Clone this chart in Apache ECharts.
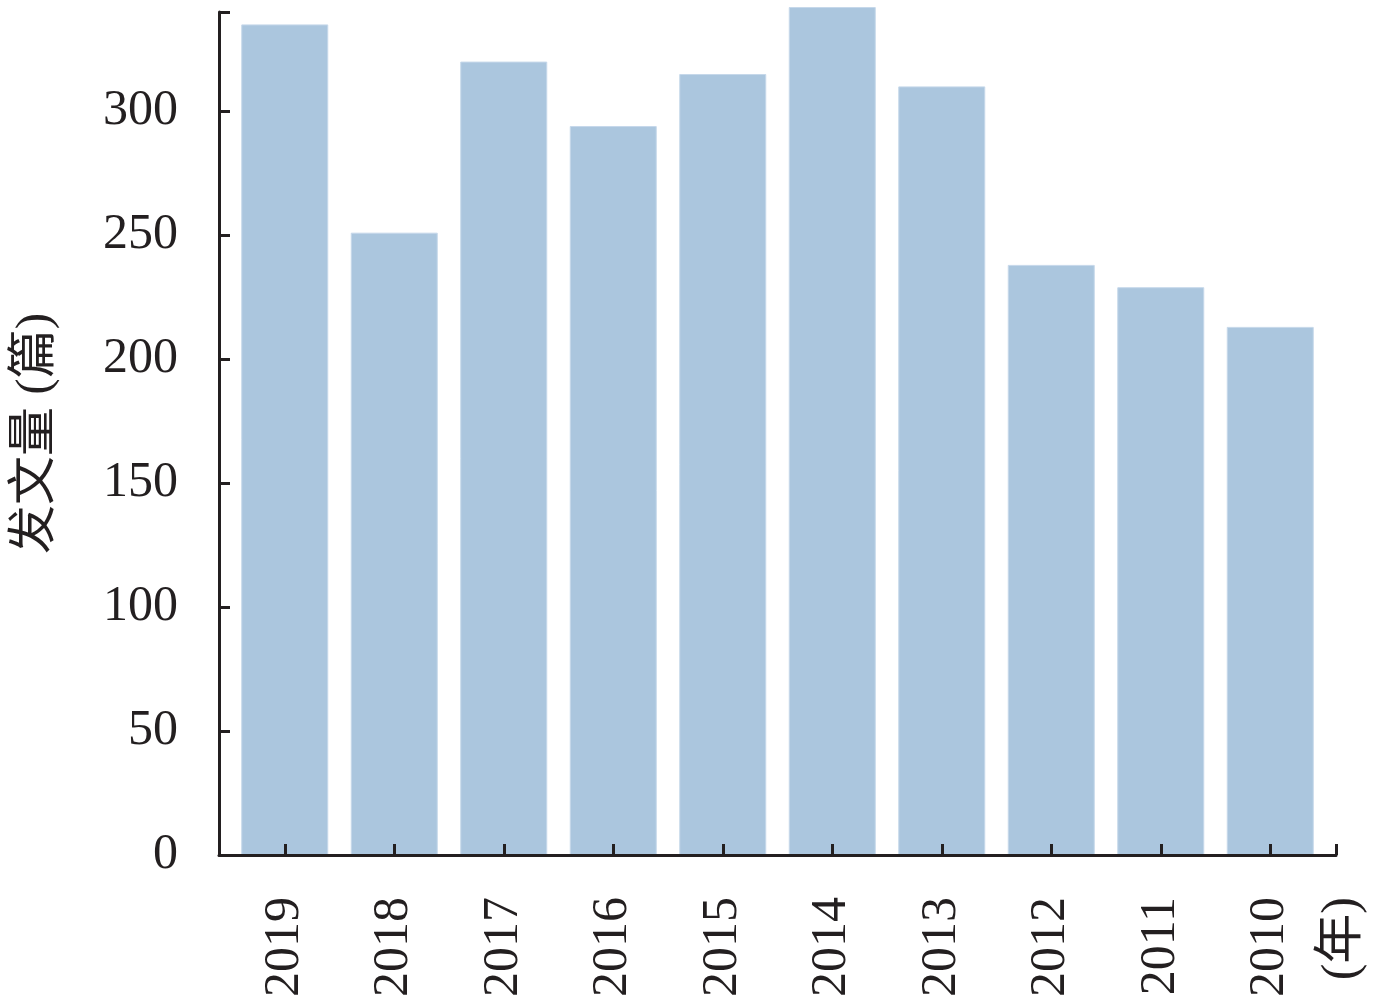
<!DOCTYPE html>
<html>
<head>
<meta charset="utf-8">
<script src="https://cdn.jsdelivr.net/npm/echarts@6/dist/echarts.min.js"></script>
<style>
html,body{margin:0;padding:0;background:#fff;}
#c{width:1378px;height:1004px;}
</style>
</head>
<body>
<div id="c"></div>
<script>
const years = ['2019','2018','2017','2016','2015','2014','2013','2012','2011','2010'];
const counts = [335, 251, 320, 294, 315, 342, 310, 238, 229, 213];
const yTicks = {min: 0, max: 340, interval: 50};
const yName = '发文量 (篇)';
const xName = '(年)';

const FONT = "'Liberation Serif', 'Noto Sans CJK SC', serif";
const INK = '#231f20';

const chart = echarts.init(document.getElementById('c'), null, {renderer: 'canvas'});
chart.setOption({
  animation: false,
  backgroundColor: '#ffffff',
  grid: [
    {left: 219, right: 42, top: 12, bottom: 149},
    {left: 230, right: 53, top: 12, bottom: 149}
  ],
  xAxis: [
    {
      gridIndex: 0, type: 'value', min: 0, max: 1, interval: 1, z: 6,
      axisLine: {show: true, lineStyle: {color: INK, width: 3}},
      axisTick: {show: true, inside: true, length: 11, lineStyle: {color: INK, width: 3}},
      axisLabel: {show: false},
      splitLine: {show: false}
    },
    {
      gridIndex: 1, type: 'category', data: years, z: 6,
      axisLine: {show: false},
      axisTick: {show: true, inside: true, alignWithLabel: true, interval: 0, length: 11, lineStyle: {color: INK, width: 3}},
      axisLabel: {interval: 0, rotate: 90, margin: 42, fontSize: 50, fontFamily: FONT, color: INK},
      splitLine: {show: false}
    }
  ],
  yAxis: [
    {
      gridIndex: 0, type: 'value', min: yTicks.min, max: yTicks.max, interval: yTicks.interval, z: 6,
      name: yName, nameLocation: 'middle', nameGap: 158, nameRotate: 90,
      nameTextStyle: {fontSize: 49, fontFamily: FONT, color: INK},
      axisLine: {show: true, lineStyle: {color: INK, width: 3}},
      axisTick: {show: true, inside: true, length: 11, lineStyle: {color: INK, width: 3}},
      axisLabel: {showMaxLabel: false, margin: 41, fontSize: 50, fontFamily: FONT, color: INK},
      splitLine: {show: false}
    },
    {
      gridIndex: 1, type: 'value', min: yTicks.min, max: yTicks.max, interval: yTicks.max,
      offset: 11, z: 6,
      axisLine: {show: false},
      axisTick: {show: true, inside: true, length: 11, lineStyle: {color: INK, width: 3}},
      axisLabel: {show: false},
      splitLine: {show: false}
    }
  ],
  graphic: [
    {
      type: 'text', left: 1318, top: 897, rotation: Math.PI / 2, z: 10,
      style: {text: xName, fontSize: 50, fontFamily: FONT, fill: INK}
    }
  ],
  series: [
    {
      type: 'bar', xAxisIndex: 1, yAxisIndex: 1, data: counts,
      barWidth: 87, clip: false, z: 2,
      itemStyle: {color: '#abc6de', borderColor: '#c6d8ea', borderWidth: 1}
    }
  ]
});
</script>
</body>
</html>
